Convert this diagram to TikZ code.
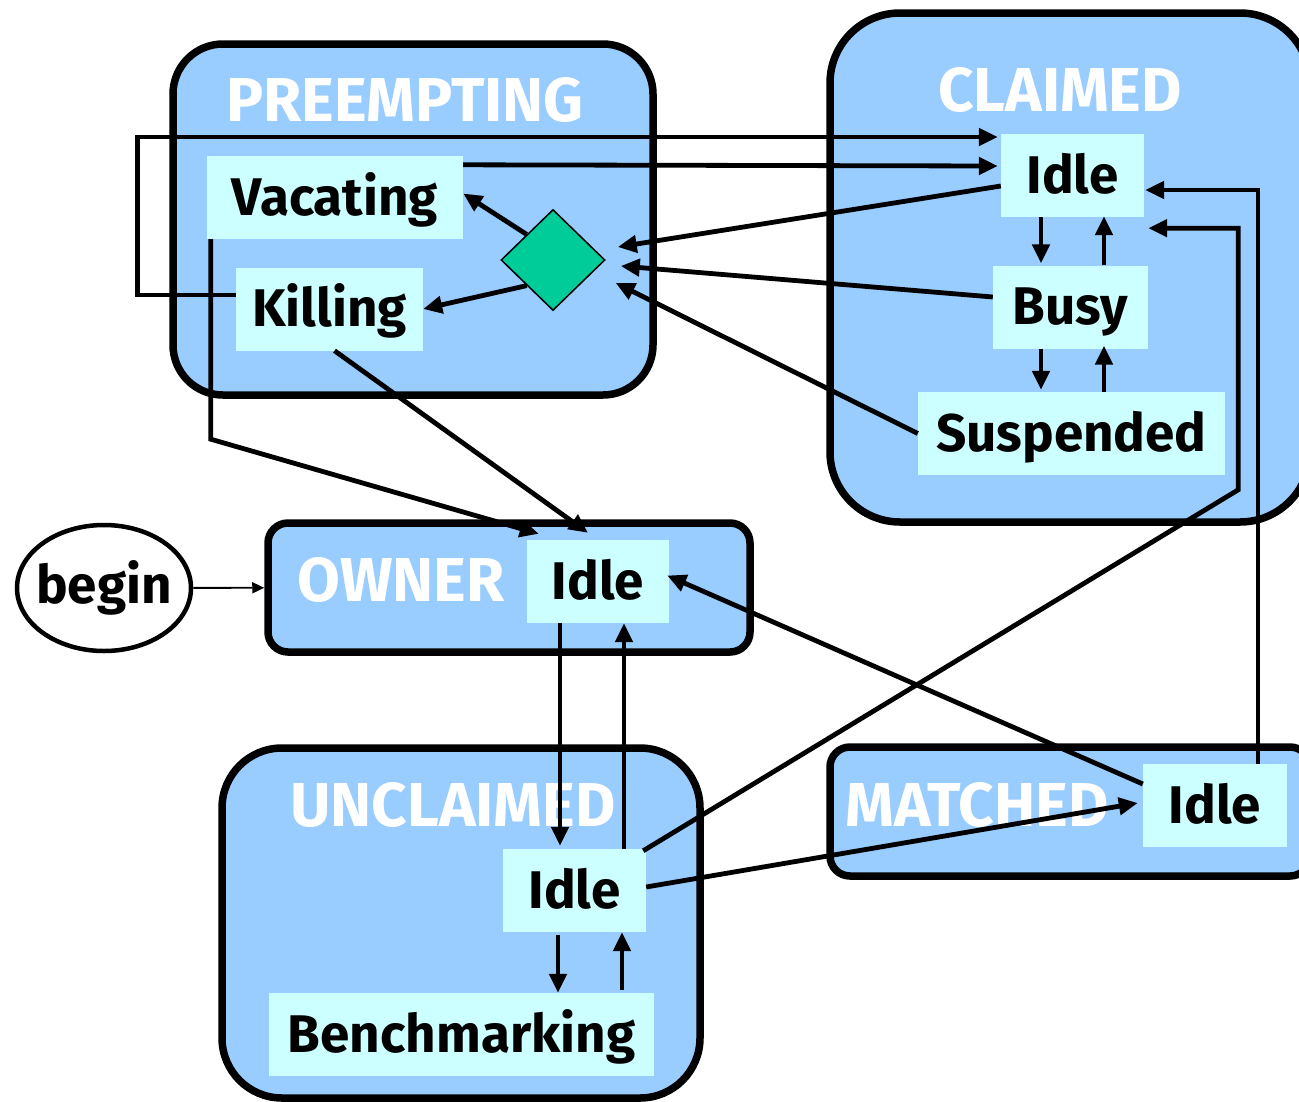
\documentclass[tikz,border=0pt]{standalone}
\usepackage{fontspec}
\setmainfont{Fira Sans}
\usetikzlibrary{shapes.geometric, arrows.meta, positioning, calc}
\definecolor{groupblue}{RGB}{153,204,255}
\definecolor{statecyan}{RGB}{204,255,255}
\definecolor{choicegreen}{RGB}{0,204,153}
\newcommand{\statefont}{\fontsize{53}{62}\selectfont\bfseries}
\newcommand{\titlefont}{\fontsize{62}{72}\selectfont\bfseries}
\tikzset{
    groupbox/.style={rectangle, draw=black, fill=groupblue, line width=7.5pt, rounded corners=#1, inner sep=0pt},
    grouptitle/.style={text=white, font=\titlefont, inner sep=0pt},
    statebox/.style={rectangle, fill=statecyan, minimum width=#1, minimum height=83pt, inner sep=0pt, text height=41pt, text depth=6pt, font=\statefont},
    choice/.style={diamond, draw=black, fill=choicegreen, line width=1.5pt, minimum width=104pt, minimum height=101pt, inner sep=0pt},
    startnode/.style={ellipse, draw=black, fill=white, line width=4.5pt, minimum width=174pt, minimum height=126pt, inner xsep=-10pt, inner ysep=0pt, font=\statefont},
    trans/.style={-{Triangle[length=19pt, width=17pt]}, line width=4.8pt},
    startarrow/.style={-{Triangle[length=12pt, width=11pt]}, line width=1.8pt}
}

\begin{document}
\begin{tikzpicture}[x=1pt, y=-1pt]
\clip (0,0) rectangle (1299,1101);

% activity groups
\node[groupbox=50pt, minimum width=480pt, minimum height=351pt] (preempting) at (413,219.5) {};
\node[groupbox=70pt, minimum width=480pt, minimum height=509pt] (claimed) at (1070,267.5) {};
\node[groupbox=20pt, minimum width=482pt, minimum height=129pt] (owner) at (509,587.5) {};
\node[groupbox=60pt, minimum width=478pt, minimum height=350pt] (unclaimed) at (461,923) {};
\node[groupbox=20pt, minimum width=480pt, minimum height=129pt] (matched) at (1070,811.5) {};

\node[grouptitle] (preemptingtitle) at (405,100) {PREEMPTING};
\node[grouptitle] (claimedtitle) at (1060,90) {CLAIMED};
\node[grouptitle] (ownertitle) at (401,580) {OWNER};
\node[grouptitle] (unclaimedtitle) at (453,805) {UNCLAIMED};
\node[grouptitle] (matchedtitle) at (977,805) {MATCHED};

% states
\node[statebox=256pt] (vac) at (335,197.5) {Vacating};
\node[statebox=187pt] (kill) at (329.5,309) {Killing};
\node[choice] (dec) at (553,260) {};
\node[statebox=143pt] (cidle) at (1072.5,175.5) {Idle};
\node[statebox=155pt] (busy) at (1070.5,307) {Busy};
\node[statebox=307pt] (susp) at (1071.5,433.5) {Suspended};
\node[statebox=142pt] (oidle) at (598,581.5) {Idle};
\node[statebox=143pt] (uidle) at (574.5,890.5) {Idle};
\node[statebox=385pt] (bench) at (461.5,1034.5) {Benchmarking};
\node[statebox=144pt] (midle) at (1215,805.5) {Idle};
\node[startnode] (begin) at (104,588) {begin};

\draw[startarrow] (begin) -- (owner);

% preempting
\draw[trans] ($(kill.west)+(0,-14)$) -- ++(-98,0) |- ($(cidle.west)+(-3,-38.5)$);
\draw[trans] ($(vac.north east)+(0,9)$) -- ($(cidle.west)+(-3,-9.5)$);
\draw[trans] ($(cidle.west)+(0,10.5)$) -- ($(dec.east)+(12,-13)$);
\draw[trans] ($(busy.west)+(0,-10)$) -- ($(dec.east)+(15,6)$);
\draw[trans] (susp.west) -- ($(dec.east)+(10,23)$);
\draw[trans] (dec.north west) -- ($(vac.east)+(0,-4)$);
\draw[trans] (dec.south west) -- (kill.east);
\draw[trans] ($(vac.south west)+(4,0)$) -- ++(0,200) -- ($(oidle.north west)+(12,-6)$);
\draw[trans] ($(kill.south)+(5,0)$) -- ($(oidle.north)+(-10,-7)$);

% claimed
\draw[trans] ($(cidle.south)+(-31.5,0)$) -- ($(busy.north)+(-29.5,-2)$);
\draw[trans] ($(busy.north)+(33.5,0)$) -- ($(cidle.south)+(31.5,-1)$);
\draw[trans] ($(busy.south)+(-29.5,0)$) -- ($(susp.north)+(-30.5,-2)$);
\draw[trans] ($(susp.north)+(32.5,0)$) -- ($(busy.south)+(33.5,-3)$);

% matched and unclaimed
\draw[trans] ($(midle.north)+(43,0)$) |- ($(cidle.east)+(1,14.5)$);
\draw[trans] ($(uidle.north east)+(-3,2)$) -- ++(595,-361) |- ($(cidle.south east)+(4,11)$);
\draw[trans] ($(midle.west)+(0,-21.5)$) -- ($(oidle.east)+(-2,-6)$);
\draw[trans] ($(uidle.east)+(0,-3.5)$) -- ($(midle.west)+(-5,-2.5)$);
\draw[trans] ($(oidle.south)+(-38,0)$) -- ($(uidle.north)+(-14.5,-3)$);
\draw[trans] ($(uidle.north)+(49.5,0)$) -- ($(oidle.south)+(26,0)$);
\draw[trans] ($(uidle.south)+(-16.5,3)$) -- ($(bench.north)+(96.5,0)$);
\draw[trans] ($(bench.north)+(160.5,-3)$) -- ($(uidle.south)+(47.5,0)$);

\end{tikzpicture}
\end{document}
